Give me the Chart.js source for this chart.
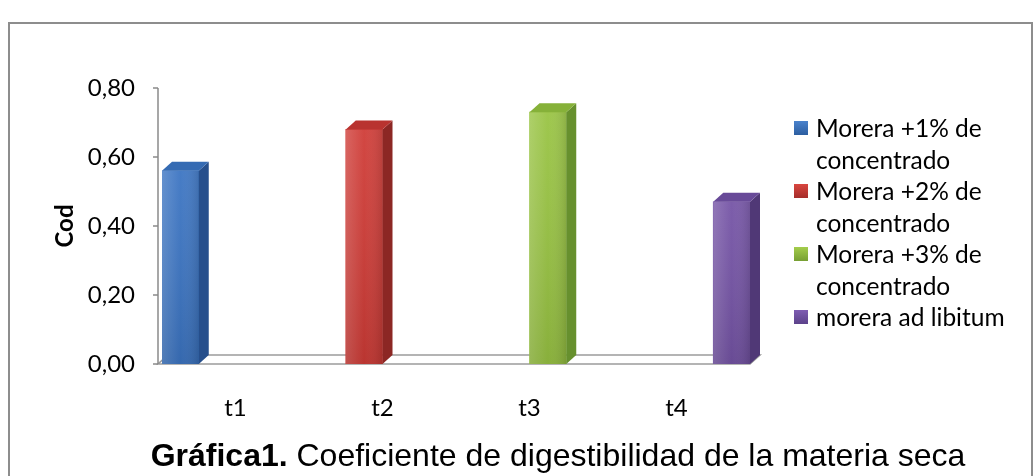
<!DOCTYPE html>
<html>
<head>
<meta charset="utf-8">
<script src="https://cdn.jsdelivr.net/npm/chart.js@4.4.1/dist/chart.umd.min.js"></script>
<style>
  html, body { margin: 0; padding: 0; background: #fff; overflow: hidden; }
  #wrap { position: relative; width: 1036px; height: 476px; overflow: hidden; background: #fff; }
  #frame { position: absolute; left: 8px; top: 22px; width: 1025px; height: 480px;
           border: 2px solid #8d8d8d; box-sizing: border-box; }
  #chart { position: absolute; left: 0; top: 0; }
  #legend { position: absolute; left: 794px; top: 112px; width: 235px;
            font-family: Lato, "Open Sans", sans-serif; font-size: 24.5px; line-height: 31.5px; color: #000; }
  #legend .item { position: relative; padding-left: 22px; }
  #legend .sw { position: absolute; left: 0; top: 9px; width: 14px; height: 14px; }
  #title { position: absolute; left: 0; top: 439px; width: 1116px; text-align: center;
           font-family: "Liberation Sans", Arial, sans-serif; font-size: 32px; line-height: 32px; color: #000; white-space: nowrap; }
</style>
</head>
<body>
<div id="wrap">
  <div id="frame"></div>
  <canvas id="chart" width="1036" height="476"></canvas>
  <div id="legend"></div>
  <div id="title"><b>Gráfica1.</b> Coeficiente de digestibilidad de la materia seca</div>
</div>
<script>
// Categories and one series per treatment (each treatment only has a value in its own group)
const categories = ['t1', 't2', 't3', 't4'];
const seriesNames = [
  'Morera +1% de concentrado',
  'Morera +2% de concentrado',
  'Morera +3% de concentrado',
  'morera ad libitum'
];
const morera1 = [0.56, null, null, null];
const morera2 = [null, 0.68, null, null];
const morera3 = [null, null, 0.73, null];
const moreraLibitum = [null, null, null, 0.47];
const yMin = 0, yMax = 0.8, yStep = 0.2;

// Face colours for the 3D columns: front, side, top, legend key
const palette = [
  { front: '#3b74c2', side: '#264f8c', top: '#356bb3', key: ['#4a82cc', '#2c5ea0'] },
  { front: '#cf3b36', side: '#8c2724', top: '#b9332f', key: ['#d9463f', '#a52d2a'] },
  { front: '#98c342', side: '#67902e', top: '#86b139', key: ['#a4cd4c', '#779f33'] },
  { front: '#7453a5', side: '#503876', top: '#684a98', key: ['#7f5db2', '#5c428a'] }
];
const seriesValues = [morera1, morera2, morera3, moreraLibitum];

const DX = 10, DY = 9; // depth offset of the 3D extrusion

const depthPlugin = {
  id: 'depth3d',
  beforeDatasetsDraw(chart) {
    const { ctx, chartArea, scales } = chart;
    const base = scales.y.getPixelForValue(0);
    const axisX = chartArea.left - 4;
    ctx.save();
    // floor
    ctx.beginPath();
    ctx.moveTo(axisX, base);
    ctx.lineTo(chartArea.right, base);
    ctx.lineTo(chartArea.right + DX, base - DY);
    ctx.lineTo(axisX + DX, base - DY);
    ctx.closePath();
    ctx.fillStyle = '#ffffff';
    ctx.fill();
    ctx.strokeStyle = '#9c9c9c';
    ctx.lineWidth = 1.6;
    ctx.stroke();
    // value axis line and tick marks
    ctx.strokeStyle = '#8a8a8a';
    ctx.lineWidth = 1.5;
    ctx.beginPath();
    ctx.moveTo(axisX, scales.y.getPixelForValue(yMax));
    ctx.lineTo(axisX, base);
    scales.y.ticks.forEach(t => {
      const py = scales.y.getPixelForValue(t.value);
      ctx.moveTo(axisX - 5, py);
      ctx.lineTo(axisX, py);
    });
    ctx.stroke();
    ctx.restore();
  },
  afterDatasetsDraw(chart) {
    const { ctx } = chart;
    ctx.save();
    chart.data.datasets.forEach((ds, i) => {
      const meta = chart.getDatasetMeta(i);
      const col = palette[i];
      meta.data.forEach((bar, j) => {
        if (ds.data[j] === null || ds.data[j] === undefined) return;
        const { x, y, base, width } = bar.getProps(['x', 'y', 'base', 'width'], true);
        const l = x - width / 2, r = x + width / 2;
        // front shading
        let g = ctx.createLinearGradient(l, 0, r, 0);
        g.addColorStop(0, 'rgba(255,255,255,0.16)');
        g.addColorStop(0.5, 'rgba(255,255,255,0.0)');
        g.addColorStop(1, 'rgba(0,0,0,0.12)');
        ctx.fillStyle = g;
        ctx.fillRect(l, y, width, base - y);
        let gv = ctx.createLinearGradient(0, y, 0, base);
        gv.addColorStop(0, 'rgba(255,255,255,0.06)');
        gv.addColorStop(1, 'rgba(0,0,0,0.10)');
        ctx.fillStyle = gv;
        ctx.fillRect(l, y, width, base - y);
        // side face
        ctx.beginPath();
        ctx.moveTo(r, y);
        ctx.lineTo(r + DX, y - DY);
        ctx.lineTo(r + DX, base - DY);
        ctx.lineTo(r, base);
        ctx.closePath();
        ctx.fillStyle = col.side;
        ctx.fill();
        // top face
        ctx.beginPath();
        ctx.moveTo(l, y);
        ctx.lineTo(l + DX, y - DY);
        ctx.lineTo(r + DX, y - DY);
        ctx.lineTo(r, y);
        ctx.closePath();
        ctx.fillStyle = col.top;
        ctx.fill();
      });
    });
    ctx.restore();
  }
};

const tickFont = { family: 'Lato, "Open Sans", sans-serif', size: 24 };

const chart = new Chart(document.getElementById('chart').getContext('2d'), {
  type: 'bar',
  data: {
    labels: categories,
    datasets: seriesNames.map((name, i) => ({
      label: name,
      data: seriesValues[i],
      backgroundColor: palette[i].front,
      borderWidth: 0
    }))
  },
  options: {
    responsive: false,
    animation: false,
    devicePixelRatio: 1,
    layout: { padding: { left: 0, top: 88, right: 286, bottom: 52 } },
    datasets: { bar: { categoryPercentage: 1, barPercentage: 1 } },
    plugins: { legend: { display: false }, tooltip: { enabled: false } },
    scales: {
      x: {
        grid: { display: false },
        border: { display: false },
        ticks: { font: tickFont, color: '#000', padding: 22 },
        afterFit(s) { s.height = 60; }
      },
      y: {
        min: yMin, max: yMax,
        grid: { display: false },
        border: { display: false },
        ticks: {
          stepSize: yStep, font: tickFont, color: '#000', padding: 19,
          callback: v => v.toFixed(2).replace('.', ',')
        },
        title: {
          display: true, text: 'Cod', color: '#000',
          font: { family: 'Lato, "Open Sans", sans-serif', size: 24, weight: 'bold' },
          padding: { top: 51, bottom: 0 }
        },
        afterFit(s) { s.width = 162; }
      }
    }
  },
  plugins: [depthPlugin]
});

// Legend built from the chart's own datasets
const legend = document.getElementById('legend');
chart.data.datasets.forEach((ds, i) => {
  const item = document.createElement('div');
  item.className = 'item';
  const sw = document.createElement('span');
  sw.className = 'sw';
  sw.style.background = 'linear-gradient(' + palette[i].key[0] + ',' + palette[i].key[1] + ')';
  item.appendChild(sw);
  item.appendChild(document.createTextNode(ds.label));
  legend.appendChild(item);
});
</script>
</body>
</html>
